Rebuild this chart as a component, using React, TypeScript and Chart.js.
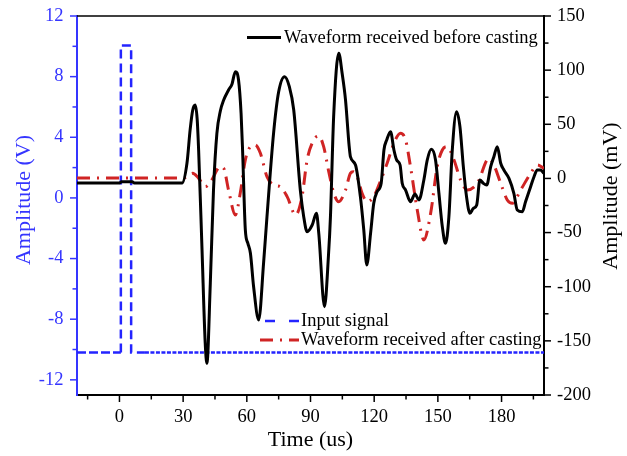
import React, { useEffect, useRef } from 'react';
import { Chart, registerables } from 'chart.js';

Chart.register(...registerables);

// ---------------- data ----------------
const inputTime = [-20, 0.66, 0.66, 5.5, 5.5, 12, 200];
const inputVolt = [-10.2, -10.2, 10.05, 10.05, -10.2, -10.2, -10.2];

const beforeTime = [
  -20, 0, 1, 6, 7, 29.5, 31.8, 33.3, 34.5, 35.7, 36.6, 37.3, 38.9, 40.4, 41.2, 42.8, 44.3, 45.9,
  47.5, 49.1, 51.4, 53, 54.6, 56.1, 57.3, 58, 59.3, 60.5, 61.7, 63.2, 65.6, 67.9, 69.5, 72.6, 75,
  77.8, 80, 82.1, 85.2, 86.8, 88.4, 90.8, 92.8, 93.9, 96.6, 98.5, 99.4, 100.9, 103.3, 104.9, 106.5,
  108.2, 108.8, 111.2, 113.5, 115.1, 116.5, 118.3, 119.8, 121.4, 123.3, 124.6, 125.9, 127.7, 129.3,
  130.6, 132.2, 133.2, 134.8, 137.1, 139.2, 141.1, 143.4, 145, 146.9, 148.9, 150.5, 152.1, 153.6,
  155.2, 156.8, 158.8, 160.4, 162, 163.5, 165.1, 166.7, 168.3, 169.8, 171.4, 173, 174.9, 176.4,
  178, 179.6, 181.1, 183.5, 185.8, 187.4, 189.8, 191.3, 193.7, 195.3, 196.8, 198.4, 199.9,
];
const beforeMV = [
  -4.2, -4.2, -3, -3, -4.2, -4.2, 14, 45, 63, 67.8, 55, 26, -66, -152, -170.7, -96.8, -10.7, 41.7,
  62, 72.4, 81.7, 87, 98.6, 90.9, 60, 26.3, -47.6, -60, -69.1, -100, -130.7, -78, -35.3, 41.7, 80,
  94, 85, 63.2, -10.7, -35.3, -49.2, -43, -32.2, -50.7, -118.4, -70, -35.3, 57, 115.6, 97.1, 72.4,
  30, 20.1, 12.4, -16.8, -47.6, -79.9, -50.7, -23, -12.2, -4.5, 26.3, 35.5, 43.2, 26.3,
  17, 12.4, -4.5, -10.7, -21.5, -14.4, -19.9, -1.4, 17, 26.9, 17, -13.7, -44.5, -59.9,
  -35.3, 26.3, 61.6, 47.8, 10.9, -16.8, -32.2, -27.6, -24.5, -1.4, -4.5, -6.1, 10.9, 20.1,
  29.3, 14, 7.8, 0.1, -13.7, -29.1, -30.7, -21.5, -7.6, 1.6, 7.8, 7.8, 4.7,
];

const afterTime = [
  -20, 28, 30.2, 34.5, 37, 40.5, 43, 47.5, 49.1, 51.4, 54.6, 56.9, 59.3, 61.7, 64, 66.4, 69.5,
  72.7, 75.8, 79, 83, 86, 88.4, 91.5, 93.9, 96.2, 98.6, 101, 103.3, 106.5, 108.8, 110.1, 112, 114.3,
  116.7, 119.8, 122.2, 126.1, 129.3, 132.4, 134.8, 137.1, 140.3, 143.4, 146.6, 149.7, 152.1, 154.4,
  157.6, 160.7, 163.9, 168.6, 174.1, 176.4, 179.6, 182.7, 185.1, 189, 193.7, 196.9, 200,
];
const afterMV = [
  0.5, 0.5, 0.5, 4.7, 1, -7.6, -3, 10.9, 9.4, -10.7, -33.7, -13.7, 17, 29.3, 30.9, 23.2, 1.6,
  -6.1, -7.6, -16.8, -33.7, -16.8, 17, 35.5, 39.2, 29.3, 6.2, -13.7, -21.5, -10.7, 4.7, 6.2, 1.6, -13.7,
  -21.5, -16.8, -6.1, 14, 32.5, 41.7, 35.5, 10.9, -29.1, -56.8, -32.2, 10.9, 26.3, 29.3,
  17, -1.4, -10.7, -4.5, 18.6, 12.4, -4.5, -19.9, -23, -10.7, 4.7, 12.4, 9.3,
];

const xTickValues = [-15, 0, 15, 30, 45, 60, 75, 90, 105, 120, 135, 150, 165, 180, 195];
const xLabelValues = [0, 30, 60, 90, 120, 150, 180];
const leftTickValues = [-12, -10, -8, -6, -4, -2, 0, 2, 4, 6, 8, 10, 12];
const leftLabelValues = [-12, -8, -4, 0, 4, 8, 12];
const rightTickValues = [-200, -175, -150, -125, -100, -75, -50, -25, 0, 25, 50, 75, 100, 125, 150];
const rightLabelValues = [-200, -150, -100, -50, 0, 50, 100, 150];

const seriesNames = ['Waveform received before casting', 'Waveform received after casting', 'Input signal'];
const axisTitles = { x: 'Time (us)', left: 'Amplitude (V)', right: 'Amplitude (mV)' };

// ---------------- styling ----------------
const FONT = '"Liberation Serif", "Times New Roman", Times, serif';
const BLUE = '#3535ff';
const LINE_BLUE = '#2424ff';
const RED = '#d02424';

const toPoints = (xs: number[], ys: number[]) => xs.map((x, i) => ({ x, y: ys[i] }));

const zeroPad = (s: any) => {
  s.paddingTop = 0;
  s.paddingBottom = 0;
  s.paddingLeft = 0;
  s.paddingRight = 0;
};

const decorPlugin = {
  id: 'decor',
  afterDraw(chart: any) {
    const ctx: CanvasRenderingContext2D = chart.ctx;
    const { left, right, top, bottom } = chart.chartArea;
    const sx = chart.scales.x;
    const sy = chart.scales.y;
    const sy2 = chart.scales.y2;
    const seg = (x1: number, y1: number, x2: number, y2: number) => {
      ctx.beginPath();
      ctx.moveTo(x1, y1);
      ctx.lineTo(x2, y2);
      ctx.stroke();
    };
    ctx.save();
    ctx.lineWidth = 1.5;
    ctx.strokeStyle = '#000';
    seg(left, top, right, top);
    xTickValues.forEach((v) => {
      const p = sx.getPixelForValue(v);
      seg(p, bottom, p, bottom + (xLabelValues.includes(v) ? 7 : 4.5));
    });
    rightTickValues.forEach((v) => {
      const p = sy2.getPixelForValue(v);
      seg(right, p, right + (rightLabelValues.includes(v) ? 7 : 4.5), p);
    });
    ctx.strokeStyle = BLUE;
    leftTickValues.forEach((v) => {
      const p = sy.getPixelForValue(v);
      seg(left, p, left - (leftLabelValues.includes(v) ? 7 : 4.5), p);
    });

    // axis titles
    ctx.font = `22px ${FONT}`;
    ctx.textAlign = 'center';
    ctx.textBaseline = 'middle';
    ctx.fillStyle = '#000';
    ctx.fillText(axisTitles.x, (left + right) / 2, 440);
    ctx.save();
    ctx.translate(24, 200);
    ctx.rotate(-Math.PI / 2);
    ctx.fillStyle = BLUE;
    ctx.fillText(axisTitles.left, 0, 0);
    ctx.restore();
    ctx.save();
    ctx.translate(611, 196);
    ctx.rotate(-Math.PI / 2);
    ctx.fillStyle = '#000';
    ctx.fillText(axisTitles.right, 0, 0);
    ctx.restore();

    // legends
    ctx.font = `18.5px ${FONT}`;
    ctx.textAlign = 'left';
    ctx.fillStyle = '#000';
    ctx.lineWidth = 3;
    ctx.strokeStyle = '#000';
    seg(247, 37.5, 281, 37.5);
    ctx.fillText(seriesNames[0], 284, 38);

    ctx.strokeStyle = LINE_BLUE;
    ctx.lineWidth = 2.5;
    ctx.setLineDash([10, 14]);
    seg(265, 321, 299, 321);
    ctx.fillStyle = '#000';
    ctx.fillText(seriesNames[2], 301, 321);

    ctx.strokeStyle = RED;
    ctx.lineWidth = 3;
    ctx.setLineDash([13, 7, 2, 7]);
    seg(260, 340, 299, 340);
    ctx.setLineDash([]);
    ctx.fillText(seriesNames[1], 301, 340);
    ctx.restore();
  },
};

export default function App() {
  const ref = useRef<HTMLCanvasElement | null>(null);

  useEffect(() => {
    if (!ref.current) return;
    const tickFont = { family: FONT, size: 18.5 };
    const chart = new Chart(ref.current, {
      type: 'line',
      data: {
        datasets: [
          {
            label: seriesNames[0],
            data: toPoints(beforeTime, beforeMV),
            yAxisID: 'y2',
            borderColor: '#000',
            borderWidth: 3,
            pointRadius: 0,
            cubicInterpolationMode: 'monotone',
            fill: false,
          },
          {
            label: seriesNames[1],
            data: toPoints(afterTime, afterMV),
            yAxisID: 'y2',
            borderColor: RED,
            borderWidth: 3,
            borderDash: [13, 7, 2, 7],
            pointRadius: 0,
            cubicInterpolationMode: 'monotone',
            fill: false,
          },
          {
            label: seriesNames[2],
            data: toPoints(inputTime, inputVolt),
            yAxisID: 'y',
            borderColor: LINE_BLUE,
            borderWidth: 2.5,
            borderDash: [9, 5],
            pointRadius: 0,
            tension: 0,
            fill: false,
            segment: {
              borderDash: (c: any) => {
                const x0 = c.p0.parsed.x;
                if (x0 >= 12) return [4, 1.5];
                if (x0 < 0) return [9, 3];
                return [9, 5];
              },
            },
          },
        ],
      },
      options: {
        responsive: false,
        animation: false,
        devicePixelRatio: 1,
        layout: { padding: { top: 16, left: 0, right: 0, bottom: 0 } },
        plugins: { legend: { display: false }, tooltip: { enabled: false } },
        scales: {
          x: {
            type: 'linear',
            position: 'bottom',
            min: -20,
            max: 200,
            afterBuildTicks: (s: any) => {
              s.ticks = xTickValues.map((value) => ({ value }));
            },
            afterFit: (s: any) => {
              s.height = 61;
              zeroPad(s);
            },
            ticks: {
              autoSkip: false,
              maxRotation: 0,
              padding: 11.5,
              color: '#000',
              font: tickFont,
              callback: (v: any) => (xLabelValues.includes(Number(v)) ? String(v) : ''),
            },
            grid: { display: false, drawTicks: false },
            border: { display: true, color: '#000', width: 2 },
          },
          y: {
            type: 'linear',
            position: 'left',
            min: -13,
            max: 12,
            afterBuildTicks: (s: any) => {
              s.ticks = leftTickValues.map((value) => ({ value }));
            },
            afterFit: (s: any) => {
              s.width = 77;
              zeroPad(s);
            },
            ticks: {
              autoSkip: false,
              padding: 13.5,
              color: BLUE,
              font: tickFont,
              callback: (v: any) => (leftLabelValues.includes(Number(v)) ? String(v) : ''),
            },
            grid: { display: false, drawTicks: false },
            border: { display: true, color: BLUE, width: 2 },
          },
          y2: {
            type: 'linear',
            position: 'right',
            min: -200,
            max: 150,
            afterBuildTicks: (s: any) => {
              s.ticks = rightTickValues.map((value) => ({ value }));
            },
            afterFit: (s: any) => {
              s.width = 83;
              zeroPad(s);
            },
            ticks: {
              autoSkip: false,
              padding: 13,
              color: '#000',
              font: tickFont,
              callback: (v: any) => (rightLabelValues.includes(Number(v)) ? String(v) : ''),
            },
            grid: { display: false, drawTicks: false },
            border: { display: true, color: '#000', width: 2 },
          },
        },
      } as any,
      plugins: [decorPlugin],
    });
    return () => chart.destroy();
  }, []);

  return (
    <div style={{ position: 'fixed', left: 0, top: 0, width: 627, height: 456, background: '#fff' }}>
      <canvas ref={ref} width={627} height={456} style={{ width: 627, height: 456 }} />
    </div>
  );
}
